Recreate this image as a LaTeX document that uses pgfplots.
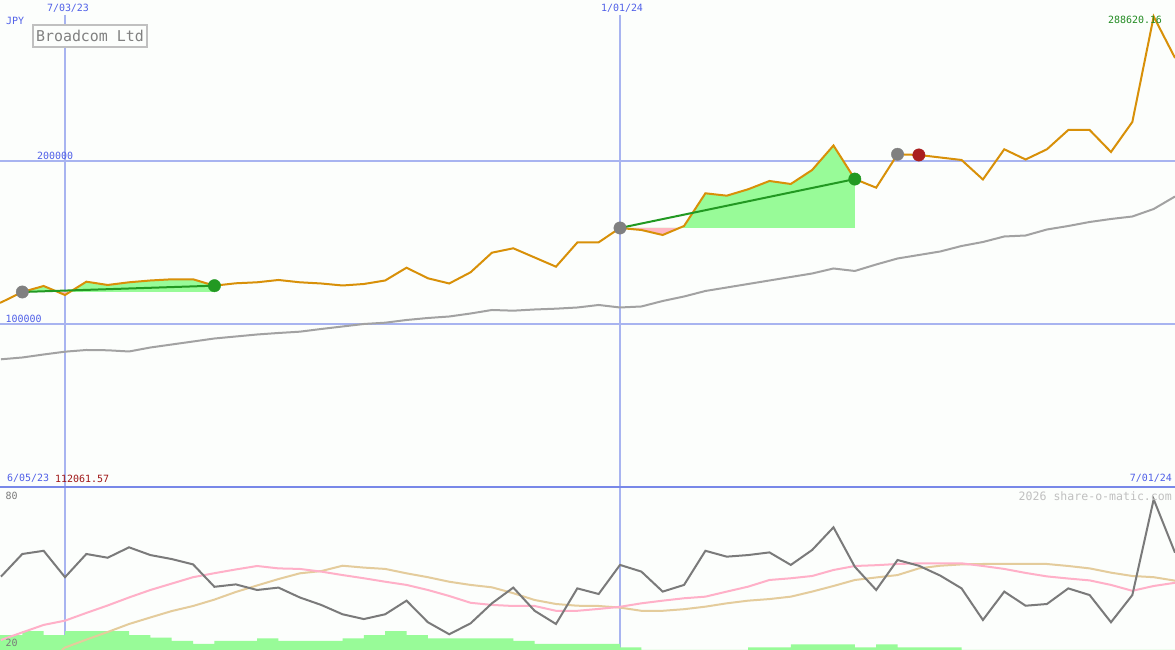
\documentclass[border=0pt]{standalone}
\usepackage{fontspec}
\setmonofont{DejaVu Sans Mono}
\usepackage{pgfplots}
\pgfplotsset{compat=1.18}
\usepackage{pgfplotstable}
\definecolor{bg}{RGB}{252,254,252}
\definecolor{gridb}{RGB}{168,180,240}
\definecolor{sepb}{RGB}{120,136,232}
\definecolor{txtb}{RGB}{80,96,232}
\definecolor{pricec}{RGB}{216,144,8}
\definecolor{mac}{RGB}{162,162,162}
\definecolor{pgreen}{RGB}{152,251,152}
\definecolor{ppink}{RGB}{255,182,193}
\definecolor{tgreen}{RGB}{34,153,34}
\definecolor{dgray}{RGB}{128,128,128}
\definecolor{dred}{RGB}{170,30,30}
\definecolor{rsic}{RGB}{122,122,122}
\definecolor{rpink}{RGB}{255,176,200}
\definecolor{rtan}{RGB}{228,204,156}
\definecolor{lblgreen}{RGB}{34,139,34}
\definecolor{lblred}{RGB}{160,24,24}
\definecolor{boxgray}{RGB}{192,192,192}
\definecolor{wmgray}{RGB}{192,192,192}

\pgfplotstableread{
w price
-4 112062
-3 113190
-2 119630
-1 123310
0 117790
1 125950
2 123930
3 125580
4 126690
5 127420
6 127420
7 123500
8 124970
9 125580
10 127000
11 125580
12 124850
13 123620
14 124540
15 126690
16 134540
17 128040
18 124850
19 131720
20 143740
21 146440
22 140800
23 135150
24 150000
25 150120
26 158900
27 157670
28 154600
29 160120
30 180180
31 178710
32 182640
33 187730
34 185890
35 194480
36 209510
37 188900
38 183620
39 204110
40 203690
41 202150
42 200610
43 188650
44 207180
45 200920
46 207180
47 219020
48 219020
49 205520
50 223930
51 288620
52 263190
}\pricetab

\pgfplotstableread{
w ma
-3 78340
-2 79450
-1 81290
0 83010
1 84050
2 83870
3 83130
4 85580
5 87420
6 89260
7 91100
8 92330
9 93560
10 94480
11 95280
12 96930
13 98470
14 100000
15 100800
16 102450
17 103680
18 104600
19 106440
20 108590
21 108160
22 108900
23 109390
24 110120
25 111660
26 110120
27 110740
28 114110
29 116870
30 120250
31 122390
32 124540
33 126690
34 128840
35 130980
36 134050
37 132520
38 136500
39 140180
40 142330
41 144480
42 147850
43 150300
44 153680
45 154290
46 157970
47 160120
48 162580
49 164420
50 165950
51 170550
52 178220
}\matab

\pgfplotstableread{
w rsi pink
-3 47.5 23.75
-2 56.0 26.6
-1 57.2 29.4
0 47.3 31.0
1 56.0 33.9
2 54.6 36.7
3 58.5 39.7
4 55.6 42.5
5 54.1 44.9
6 52.1 47.3
7 43.7 48.8
8 44.6 50.2
9 42.5 51.5
10 43.4 50.6
11 39.7 50.4
12 36.9 49.4
13 33.4 48.1
14 31.6 46.9
15 33.4 45.6
16 38.5 44.4
17 30.4 42.5
18 25.9 40.25
19 30.0 37.7
20 37.5 36.9
21 43.4 36.5
22 34.7 36.5
23 29.75 34.7
24 43.1 34.7
25 41.0 35.4
26 51.9 36.2
27 49.4 37.5
28 41.9 38.5
29 44.4 39.4
30 57.2 40.0
31 55.0 41.9
32 55.6 43.75
33 56.6 46.25
34 51.9 46.9
35 57.5 47.75
36 66.0 50.0
37 51.2 51.5
38 42.5 51.8
39 53.75 52.25
40 51.6 52.5
41 47.9 52.5
42 43.1 52.5
43 31.25 51.5
44 41.9 50.4
45 36.6 48.9
46 37.25 47.6
47 43.1 46.8
48 40.6 46.1
49 30.4 44.4
50 40.6 42.2
51 76.5 44.0
52 56.5 45.2
}\rsitab

\pgfplotstableread{
w tan
-0.15 20.0
0 20.9
1 23.9
2 26.75
3 29.75
4 32.2
5 34.6
6 36.5
7 38.9
8 41.75
9 44.2
10 46.6
11 48.75
12 49.6
13 51.6
14 50.9
15 50.4
16 48.75
17 47.3
18 45.6
19 44.4
20 43.5
21 41.3
22 38.75
23 37.25
24 36.6
25 36.5
26 35.9
27 34.7
28 34.7
29 35.3
30 36.25
31 37.5
32 38.5
33 39.1
34 40.0
35 41.9
36 44.0
37 46.25
38 47.2
39 48.1
40 50.6
41 51.6
42 52.1
43 52.25
44 52.25
45 52.25
46 52.25
47 51.5
48 50.6
49 49.0
50 47.75
51 47.3
52 46.0
}\tantab

\pgfplotstableread{
w bar
-3.1 25.6
-2 27.1
-1 25.6
0 27.1
1 27.1
2 27.1
3 25.6
4 24.6
5 23.4
6 22.25
7 23.4
8 23.4
9 24.4
10 23.4
11 23.4
12 23.4
13 24.4
14 25.6
15 27.1
16 25.6
17 24.4
18 24.4
19 24.4
20 24.4
21 23.4
22 22.25
23 22.25
24 22.25
25 22.25
26 21.0
27 19
28 19
29 19
30 19
31 19
32 21.0
33 21.0
34 22.1
35 22.1
36 22.1
37 21.0
38 22.1
39 21.0
40 21.0
41 21.0
42 19
52 19
}\bartab

\begin{document}
\begin{tikzpicture}[x=1bp,y=1bp]
\path[use as bounding box] (0,0) rectangle (1175,650);
\fill[bg] (0,0) rectangle (1175,650);

% ---------- upper panel ----------
\begin{axis}[
  at={(0,163bp)}, anchor=south west,
  width=1175bp, height=487bp, scale only axis,
  xmin=-3.045, xmax=52, ymin=0, ymax=298774,
  axis line style={draw=none},
  xtick=\empty, ytick={100000,200000}, yticklabels={},
  major tick length=0pt,
  ymajorgrids, grid style={gridb, line width=2bp},
  clip=true,
]
\draw[gridb, line width=2bp] (axis cs:0,289600) -- (axis cs:0,0);
\draw[gridb, line width=1.3bp] (axis cs:26,289600) -- (axis cs:26,0);

% trade fills
\addplot[fill=pgreen, draw=none] coordinates {(-2,119630) (-1,123310) (-0.333,119630) (0.225,119630) (1,125950) (2,123930) (3,125580) (4,126690) (5,127420) (6,127420) (7,123500) (7,119630)};
\addplot[fill=ppink, draw=none] coordinates {(-0.333,119630) (0,117790) (0.225,119630)};
\addplot[fill=pgreen, draw=none] coordinates {(26,158900) (28.78,158900) (29,160120) (30,180180) (31,178710) (32,182640) (33,187730) (34,185890) (35,194480) (36,209510) (37,188900) (37,158900)};
\addplot[fill=ppink, draw=none] coordinates {(26,158900) (27,157670) (28,154600) (28.78,158900)};

\addplot[mac, line width=2bp] table[x=w, y=ma] {\matab};
\addplot[pricec, line width=2bp] table[x=w, y=price] {\pricetab};

\addplot[tgreen, line width=2bp] coordinates {(-2,119630) (7,123500)};
\addplot[tgreen, line width=2bp] coordinates {(26,158900) (37,188900)};

\addplot[only marks, mark=*, mark size=6.2bp, mark options={fill=dgray, draw=dgray}] coordinates {(-2,119630) (26,158900) (39,204110)};
\addplot[only marks, mark=*, mark size=6.2bp, mark options={fill=tgreen, draw=tgreen}] coordinates {(7,123500) (37,188900)};
\addplot[only marks, mark=*, mark size=6.2bp, mark options={fill=dred, draw=dred}] coordinates {(40,203690)};
\end{axis}

% ---------- lower panel ----------
\begin{axis}[
  at={(0,0)}, anchor=south west,
  width=1175bp, height=163bp, scale only axis,
  xmin=-3.045, xmax=52, ymin=20, ymax=81.125,
  axis line style={draw=none},
  xtick=\empty, ytick=\empty,
  clip=true,
]
\draw[gridb, line width=2bp] (axis cs:0,10) -- (axis cs:0,81.125);
\draw[gridb, line width=1.3bp] (axis cs:26,10) -- (axis cs:26,81.125);
\addplot[const plot, fill=pgreen, draw=none] table[x=w, y=bar] {\bartab} \closedcycle;
\addplot[rtan, line width=2bp] table[x=w, y=tan] {\tantab};
\addplot[rpink, line width=2bp] table[x=w, y=pink] {\rsitab};
\addplot[rsic, line width=2bp] table[x=w, y=rsi] {\rsitab};
\end{axis}

\draw[sepb, line width=2.5bp] (0,163) -- (1175,163);

% ---------- texts ----------
\begin{scope}[every node/.style={inner sep=0pt, font=\ttfamily\fontsize{10}{12}\selectfont}]
\node[txtb] at (68,641.5) {7/03/23};
\node[txtb] at (622,641.5) {1/01/24};
\node[txtb, anchor=west] at (6,629.5) {JPY};
\node[txtb, anchor=west] at (37,494) {200000};
\node[txtb, anchor=west] at (5.5,331) {100000};
\node[lblgreen] at (1135,630) {288620.16};
\node[txtb, anchor=west] at (7,171.5) {6/05/23};
\node[lblred, anchor=west] at (55,171.5) {112061.57};
\node[txtb, anchor=east] at (1172,171.5) {7/01/24};
\node[rsic, anchor=west] at (5.5,154.5) {80};
\node[rsic, anchor=west] at (5.5,7.5) {20};
\node[wmgray, anchor=east, font=\ttfamily\fontsize{11.6}{13}\selectfont] at (1172,154) {2026 share-o-matic.com};
\node[draw=boxgray, line width=2bp, fill=bg, minimum width=113bp, minimum height=22bp, text=dgray, font=\ttfamily\fontsize{15}{17}\selectfont] at (90,614) {Broadcom Ltd};
\end{scope}
\end{tikzpicture}
\end{document}
